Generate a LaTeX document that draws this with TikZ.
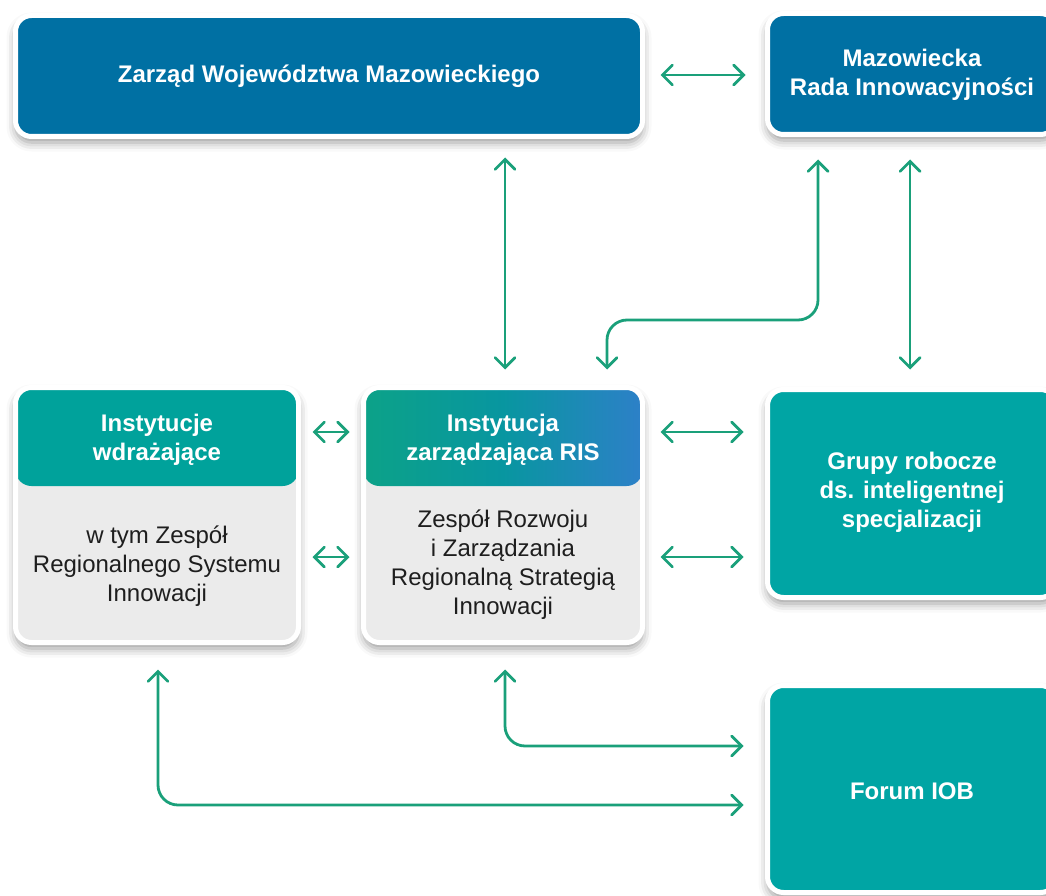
\documentclass[tikz,border=0pt]{standalone}
\usepackage{fontspec}
\setmainfont{Liberation Sans}
\usetikzlibrary{arrows.meta,shadows.blur}
\definecolor{zblue}{RGB}{0,112,163}
\definecolor{zteal}{RGB}{0,162,155}
\definecolor{zteal2}{RGB}{0,165,164}
\definecolor{zgrey}{RGB}{235,235,235}
\definecolor{zgreen}{RGB}{26,160,122}
\definecolor{gradl}{RGB}{12,162,136}
\definecolor{gradm}{RGB}{8,150,160}
\definecolor{gradr}{RGB}{45,128,200}
\definecolor{ztext}{RGB}{30,30,30}
\tikzset{
  boxbase/.style={rectangle, rounded corners=16pt, inner sep=0pt, draw=white, line width=5pt,
    blur shadow={shadow xshift=0pt, shadow yshift=-6pt, shadow blur radius=9pt, shadow opacity=40}},
  bluebox/.style={boxbase, fill=zblue},
  tealbox/.style={boxbase, fill=zteal2},
  twobox/.style={boxbase, fill=zgrey},
  titletext/.style={align=center, text=white, font=\fontsize{24}{29}\selectfont\bfseries, inner sep=0pt},
  bodytext/.style={align=center, text=ztext, font=\fontsize{24}{29}\selectfont, inner sep=0pt},
  conn/.style={draw=zgreen, line width=2.8pt, line cap=round,
    {Straight Barb[length=10pt,width=20pt,line cap=round]}-{Straight Barb[length=10pt,width=20pt,line cap=round]}}
}
\begin{document}
\begin{tikzpicture}[x=1pt,y=-1pt]
\useasboundingbox (0,0) rectangle (1046,896);
\clip (0,0) rectangle (1046,896);
% boxes
\node[bluebox, minimum width=627pt, minimum height=121pt] (A) at (329,76) {};
\node[titletext] (At) at (329,76) {Zarząd Województwa Mazowieckiego};
\node[bluebox, minimum width=289pt, minimum height=121pt] (B) at (912,74) {};
\node[titletext] (Bt) at (912,75) {Mazowiecka\\Rada Innowacyjności};
\node[twobox, minimum width=283pt, minimum height=255pt,
  path picture={\fill[zteal] (path picture bounding box.north west) rectangle ([yshift=-98.5pt]path picture bounding box.north east);}] (C) at (157,515) {};
\node[titletext] (Ct) at (157,440) {Instytucje\\wdrażające};
\node[bodytext] (Cb) at (157,566) {w tym Zespół\\Regionalnego Systemu\\Innowacji};
\node[twobox, minimum width=279pt, minimum height=255pt,
  path picture={\shade[left color=gradl, right color=gradr, middle color=gradm] (path picture bounding box.north west) rectangle ([yshift=-98.5pt]path picture bounding box.north east);}] (D) at (503,515) {};
\node[titletext] (Dt) at (503,440) {Instytucja\\zarządzająca RIS};
\node[bodytext] (Db) at (503,565) {Zespół Rozwoju\\i Zarządzania\\Regionalną Strategią\\Innowacji};
\node[tealbox, minimum width=289pt, minimum height=208pt] (E) at (912,493.5) {};
\node[titletext] (Et) at (912,492) {Grupy robocze\\ds. inteligentnej\\specjalizacji};
\node[tealbox, minimum width=289pt, minimum height=207pt] (F) at (912,789) {};
\node[titletext] (Ft) at (912,791) {Forum IOB};
% helper coordinates
\coordinate (hy1) at (0,432);
\coordinate (hy2) at (0,557);
\coordinate (bk1) at (818,320);
\coordinate (bk2) at (607,320);
\coordinate (fy1) at (505,746);
\coordinate (fy2) at (158,805);
% connectors
\draw[conn, shorten <=15.5pt, shorten >=19.5pt] ([yshift=1pt]A.east) -- ([yshift=1pt]A.east -| B.west);
\draw[conn, shorten <=18.5pt, shorten >=15.5pt] ([xshift=2pt]D.north |- A.south) -- ([xshift=2pt]D.north);
\draw[conn, shorten <=22.5pt, shorten >=17.5pt] ([xshift=-2pt]B.south) -- ([xshift=-2pt]E.north);
\draw[conn, rounded corners=20pt, shorten <=22.5pt, shorten >=15.5pt] (B.south -| bk1) -- (bk1) -- (bk2) -- (D.north -| bk2);
\draw[conn, shorten <=11.5pt, shorten >=11.5pt] (C.east |- hy1) -- (D.west |- hy1);
\draw[conn, shorten <=11.5pt, shorten >=11.5pt] (C.east |- hy2) -- (D.west |- hy2);
\draw[conn, shorten <=15.5pt, shorten >=21.5pt] (D.east |- hy1) -- (E.west |- hy1);
\draw[conn, shorten <=15.5pt, shorten >=21.5pt] (D.east |- hy2) -- (E.west |- hy2);
\draw[conn, rounded corners=20pt, shorten <=24.5pt, shorten >=21.5pt] (D.south -| fy1) -- (fy1) -- (F.west |- fy1);
\draw[conn, rounded corners=20pt, shorten <=24.5pt, shorten >=21.5pt] (C.south -| fy2) -- (fy2) -- (F.west |- fy2);
\end{tikzpicture}
\end{document}
